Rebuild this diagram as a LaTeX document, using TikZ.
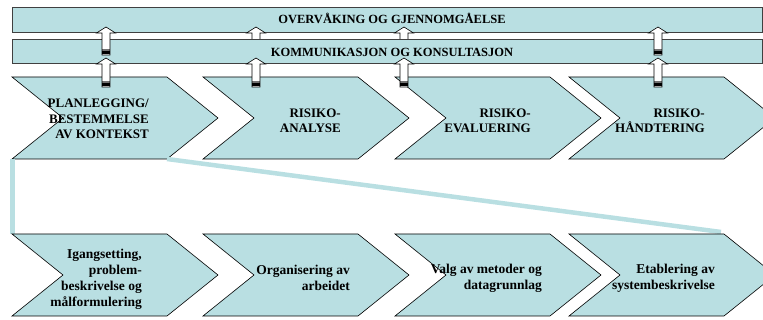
\documentclass[tikz,border=0pt]{standalone}
\usepackage{fontspec}
\setmainfont{Liberation Serif}
\definecolor{paleteal}{RGB}{185,223,226}

% chevron: name, left x, top y (width 155, point depth 51, height 82)
\newcommand{\chevshape}[3]{%
  \draw[chev] (#2,#3) coordinate (#1-tl) -- ++(155,0) coordinate (#1-tr)
    -- ++(51,41) coordinate (#1-tip) -- ++(-51,41) coordinate (#1-br)
    -- ++(-155,0) coordinate (#1-bl) -- ++(51,-41) coordinate (#1-notch) -- cycle;}

% upward block arrow: name, centre x, tip y, bottom y
\newcommand{\uparrowblock}[4]{%
  \begin{scope}[shift={(#2,0)}]
    \fill[white] (0,#3) -- (9.5,#3+6) -- (4,#3+6) -- (4,#4) -- (-4,#4) -- (-4,#3+6) -- (-9.5,#3+6) -- cycle;
    \fill[black!55] (-4,#4-5.5) rectangle (4,#4-3.5);
    \fill[black] (-4,#4-3.5) rectangle (4,#4-0.8);
    \draw[arrowline] (0,#3) coordinate (#1-tip) -- (9.5,#3+6) -- (4,#3+6) -- (4,#4)
      -- (-4,#4) coordinate (#1-base) -- (-4,#3+6) -- (-9.5,#3+6) -- cycle;
  \end{scope}}

\begin{document}
\begin{tikzpicture}[x=1pt,y=-1pt,
  chev/.style={fill=paleteal, draw=black, line width=0.6pt, line join=miter},
  band/.style={fill=paleteal, draw=black!75, line width=0.6pt},
  arrowline/.style={draw=black, line width=0.6pt, line join=miter},
  zoomline/.style={draw=paleteal, line width=4.5pt},
  bartext/.style={font=\bfseries\fontsize{12.5}{15}\selectfont, inner sep=0pt, anchor=base},
  steptext/.style={font=\bfseries\fontsize{13}{15.5}\selectfont, align=right, inner sep=0pt, anchor=east},
  subtext/.style={font=\bfseries\fontsize{13.5}{16}\selectfont, align=right, inner sep=0pt, anchor=east}]

\useasboundingbox (0,0) rectangle (763,320);

% monitoring bar
\path[band] (12,7) rectangle (762,32);
\coordinate (bar1) at (387,19.5);

% arrows passing behind the communication bar
\uparrowblock{ua2}{256}{27}{55}
\uparrowblock{ua3}{404}{27}{55}

% communication bar
\path[band] (12,39) rectangle (762,63);
\coordinate (bar2) at (387,51);

% arrows drawn over the communication bar
\uparrowblock{ua1}{106}{27}{55}
\uparrowblock{ua4}{658}{27}{55}

% main process steps
\chevshape{p1}{12}{77}
\chevshape{p2}{203}{77}
\chevshape{p3}{395}{77}
\chevshape{p4}{569}{77}

% arrows from the steps up to the communication bar
\uparrowblock{la1}{106}{58}{87}
\uparrowblock{la2}{256}{58}{87}
\uparrowblock{la3}{404}{58}{87}
\uparrowblock{la4}{658}{58}{87}

% zoom lines to the detailed steps
\coordinate (s1-tlz) at (12.5,234);
\coordinate (s4-trz) at (721,232);
\draw[zoomline] (12.5,159.5) coordinate (p1-blz) -- (s1-tlz);
\draw[zoomline] (p1-br) -- (s4-trz);

% detailed sub-steps
\chevshape{s1}{12}{234}
\chevshape{s2}{203}{234}
\chevshape{s3}{395}{234}
\chevshape{s4}{569}{234}

% labels
\node[bartext] (t-ovr) at (392,24) {OVERVÅKING OG GJENNOMGÅELSE};
\node[bartext] (t-kom) at (392,57) {KOMMUNIKASJON OG KONSULTASJON};

\node[steptext] (t-p1) at (149,119) {PLANLEGGING/\\BESTEMMELSE\\AV KONTEKST};
\node[steptext] (t-p2) at (341,121) {RISIKO-\\ANALYSE};
\node[steptext] (t-p3) at (531,121) {RISIKO-\\EVALUERING};
\node[steptext] (t-p4) at (705,121) {RISIKO-\\HÅNDTERING};

\node[subtext] (t-s1) at (142,279) {Igangsetting,\\problem-\\beskrivelse og\\målformulering};
\node[subtext] (t-s2) at (350,278) {Organisering av\\arbeidet};
\node[subtext] (t-s3) at (542,278) {Valg av metoder og\\datagrunnlag};
\node[subtext] (t-s4) at (715,278) {Etablering av\\systembeskrivelse};
\end{tikzpicture}
\end{document}
